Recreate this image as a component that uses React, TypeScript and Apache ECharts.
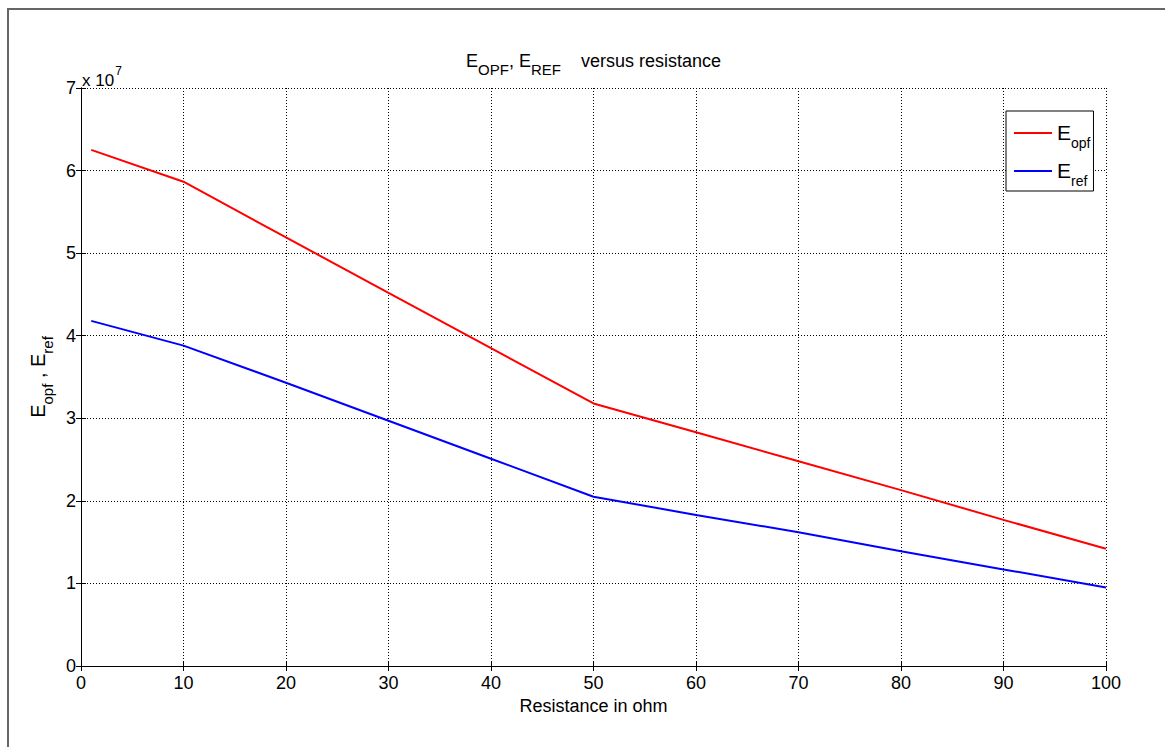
import React, { useEffect, useRef } from "react";
import * as echarts from "echarts";

// Resistance (ohm)
const resistance: number[] = [1, 10, 20, 30, 40, 50, 60, 70, 80, 90, 100];
// Values in units of 10^7
const eOpf: number[] = [6.25, 5.865, 5.19, 4.52, 3.85, 3.18, 2.83, 2.48, 2.13, 1.77, 1.42];
const eRef: number[] = [4.18, 3.88, 3.43, 2.97, 2.51, 2.05, 1.83, 1.62, 1.39, 1.17, 0.95];
const yTicks: number[] = [0, 1, 2, 3, 4, 5, 6, 7];
const xTicks: number[] = [0, 10, 20, 30, 40, 50, 60, 70, 80, 90, 100];

const FONT = "Liberation Sans, Arial, sans-serif";

export default function App() {
  const ref = useRef<HTMLDivElement>(null);
  useEffect(() => {
    if (!ref.current) return;
    const chart = echarts.init(ref.current, null, { renderer: "svg" });
    const left = 81, top = 88, right = 1106, bottom = 666;
    const axisCommon = {
      axisLine: { show: true, lineStyle: { color: "#000", width: 1 } },
      axisTick: { show: true, inside: true, length: 5, lineStyle: { color: "#000" } },
    };
    chart.setOption({
      animation: false,
      backgroundColor: "#fff",
      grid: { left, top, right: 1165 - right, bottom: 747 - bottom, show: false },
      xAxis: [
        {
          type: "value",
          min: 0,
          max: 100,
          interval: 10,
          position: "bottom",
          ...axisCommon,
          axisLabel: { color: "#000", fontSize: 18, fontFamily: FONT, margin: 8,
            formatter: (v: number) => (xTicks.includes(v) ? String(v) : "") },
          splitLine: { show: true, lineStyle: { color: "#000", type: [1, 2], width: 1 } },
          name: "Resistance in ohm",
          nameLocation: "middle",
          nameGap: 30,
          nameTextStyle: { color: "#000", fontSize: 18, fontFamily: FONT },
        },
        {
          type: "value",
          min: 0,
          max: 100,
          interval: 10,
          position: "top",
          ...axisCommon,
          axisLabel: { show: false },
          splitLine: { show: false },
        },
      ],
      yAxis: [
        {
          type: "value",
          min: 0,
          max: 7,
          interval: 1,
          position: "left",
          ...axisCommon,
          axisLabel: { color: "#000", fontSize: 18, fontFamily: FONT, margin: 5,
            formatter: (v: number) => (yTicks.includes(v) ? String(v) : "") },
          splitLine: { show: true, lineStyle: { color: "#000", type: [1, 2], width: 1 } },
          name: "{b|E}{s|opf}{b| , E}{s|ref}",
          nameLocation: "middle",
          nameRotate: 90,
          nameGap: 32,
          nameTextStyle: {
            fontSize: 20,
            fontFamily: FONT,
            color: "#000",
            rich: {
              b: { fontSize: 20, fontFamily: FONT, color: "#000", verticalAlign: "bottom", lineHeight: 26 },
              s: { fontSize: 15, fontFamily: FONT, color: "#000", verticalAlign: "bottom", lineHeight: 26, padding: [0, 0, -7, 0] },
            },
          },
        },
        {
          type: "value",
          min: 0,
          max: 7,
          interval: 1,
          position: "right",
          ...axisCommon,
          axisLabel: { show: false },
          splitLine: { show: false },
        },
      ],
      legend: {
        orient: "vertical",
        left: 1006,
        top: 111,
        padding: [11, 3, 3, 8],
        itemGap: 10,
        itemWidth: 38,
        itemHeight: 2,
        icon: "rect",
        backgroundColor: "#fff",
        borderColor: "#000",
        borderWidth: 1,
        borderRadius: 0,
        data: ["opf", "ref"],
        formatter: (n: string) => `{b|E}{s|${n}}`,
        textStyle: {
          fontSize: 21,
          fontFamily: FONT,
          color: "#000",
          rich: {
            b: { fontSize: 21, fontFamily: FONT, color: "#000", verticalAlign: "bottom", lineHeight: 28, padding: [0, 0, 4, 0] },
            s: { fontSize: 14, fontFamily: FONT, color: "#000", verticalAlign: "bottom", lineHeight: 28, padding: [0, 0, -3, 0] },
          },
        },
      },
      series: [
        {
          name: "opf",
          type: "line",
          data: resistance.map((x, i) => [x, eOpf[i]]),
          showSymbol: false,
          symbol: "none",
          lineStyle: { color: "#ff0000", width: 2 },
          itemStyle: { color: "#ff0000" },
        },
        {
          name: "ref",
          type: "line",
          data: resistance.map((x, i) => [x, eRef[i]]),
          showSymbol: false,
          symbol: "none",
          lineStyle: { color: "#0000ff", width: 2 },
          itemStyle: { color: "#0000ff" },
        },
      ],
      graphic: [
        {
          type: "rect",
          shape: { x: 8, y: 9, width: 1300, height: 900 },
          style: { fill: "none", stroke: "#666", lineWidth: 2 },
          silent: true,
        },
        {
          type: "text",
          x: (left + right) / 2,
          y: 48,
          style: {
            text: "{b|E}{s|OPF}{b|, E}{s|REF}{b|    versus resistance}",
            align: "center",
            rich: {
              b: { fontSize: 18, fontFamily: FONT, fill: "#000", verticalAlign: "bottom", lineHeight: 22 },
              s: { fontSize: 15, fontFamily: FONT, fill: "#000", verticalAlign: "bottom", lineHeight: 22, padding: [0, 0, -7, 0] },
            },
          },
        },
        {
          type: "text",
          x: 82,
          y: 65,
          style: {
            text: "{b|x 10}{p|7}",
            rich: {
              b: { fontSize: 17, fontFamily: FONT, fill: "#000", verticalAlign: "bottom", lineHeight: 24 },
              p: { fontSize: 12, fontFamily: FONT, fill: "#000", verticalAlign: "top", lineHeight: 24, padding: [0, 0, 8, 1] },
            },
          },
        },
      ],
    });
    return () => chart.dispose();
  }, []);
  return <div ref={ref} style={{ position: "absolute", left: 0, top: 0, width: 1165, height: 747 }} />;
}
